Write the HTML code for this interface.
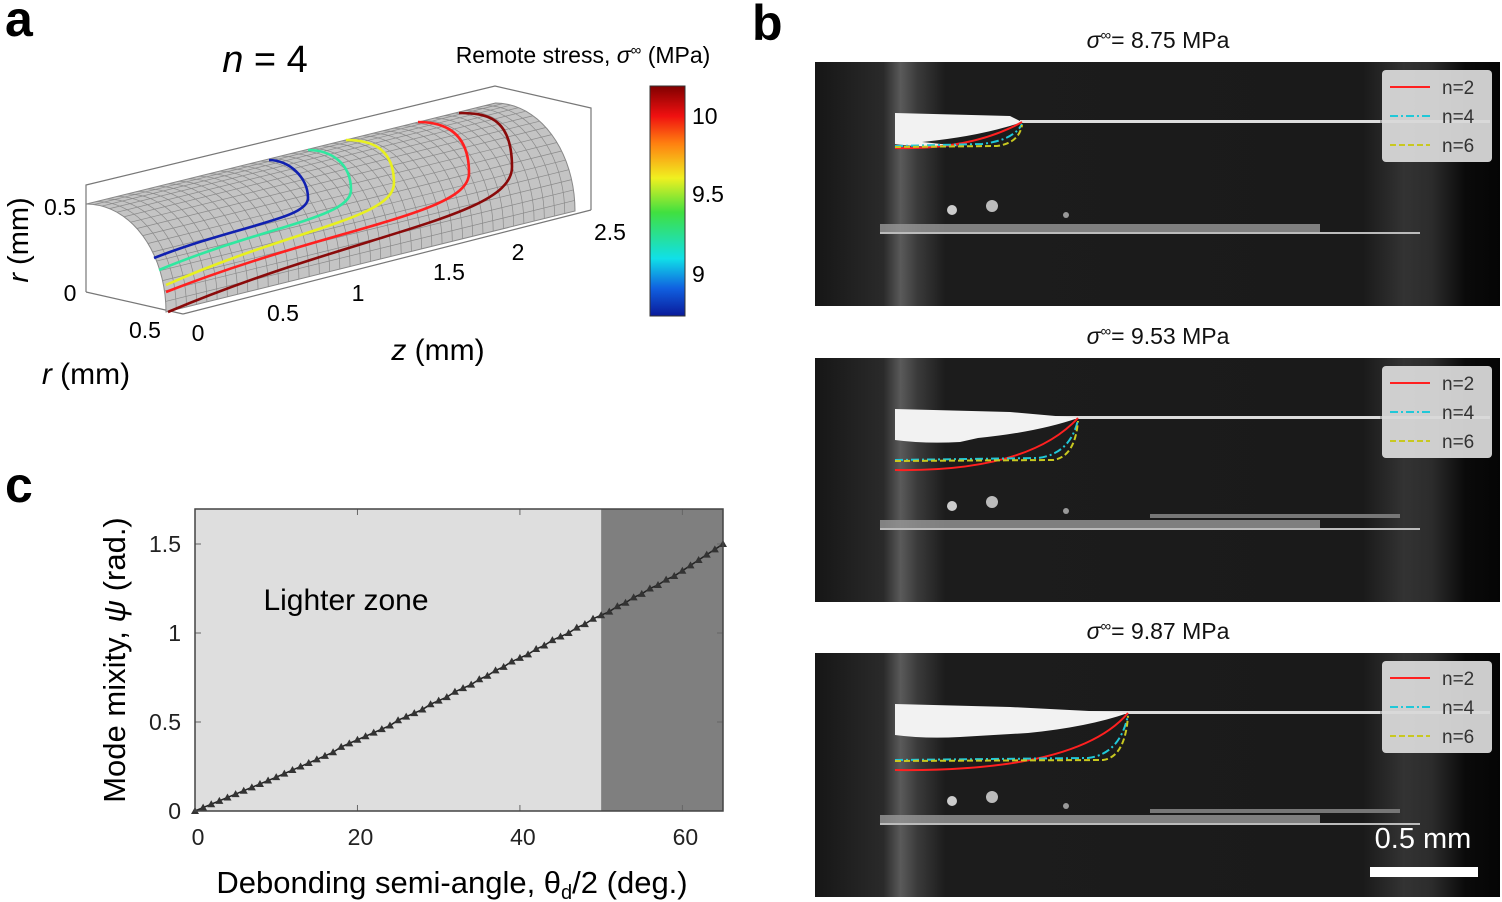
<!DOCTYPE html>
<html><head><meta charset="utf-8"><style>
body{margin:0;background:#fff;}
svg{display:block;font-family:"Liberation Sans",Arial,sans-serif;}
</style></head><body>
<svg id="fig" width="1502" height="902" viewBox="0 0 1502 902" xmlns="http://www.w3.org/2000/svg">
<defs>
<linearGradient id="cbar" x1="0" y1="1" x2="0" y2="0">
<stop offset="0" stop-color="#0a1a9a"/><stop offset="0.12" stop-color="#1060e0"/><stop offset="0.25" stop-color="#10e0e8"/><stop offset="0.45" stop-color="#40e040"/><stop offset="0.6" stop-color="#f0f020"/><stop offset="0.75" stop-color="#ff8010"/><stop offset="0.87" stop-color="#f01010"/><stop offset="1" stop-color="#800000"/>
</linearGradient>
<linearGradient id="bg" x1="0" y1="0" x2="1" y2="0">
<stop offset="0" stop-color="#161616"/><stop offset="0.1" stop-color="#2a2a2a"/><stop offset="0.125" stop-color="#5a5a5a"/><stop offset="0.15" stop-color="#3a3a3a"/><stop offset="0.19" stop-color="#1c1c1c"/><stop offset="0.8" stop-color="#1a1a1a"/><stop offset="0.86" stop-color="#333"/><stop offset="0.9" stop-color="#2c2c2c"/><stop offset="0.95" stop-color="#0a0a0a"/><stop offset="1" stop-color="#050505"/>
</linearGradient>
</defs>

<text x="5" y="36" font-size="50" font-weight="bold">a</text>
<text x="752" y="40" font-size="50" font-weight="bold">b</text>
<text x="5" y="502" font-size="50" font-weight="bold">c</text>

<g id="pa">
<text x="265" y="72" font-size="38" text-anchor="middle"><tspan font-style="italic">n</tspan> = 4</text>
<text x="583" y="63" font-size="23" text-anchor="middle">Remote stress, <tspan font-style="italic">σ</tspan><tspan font-size="15" dy="-8">∞</tspan><tspan dy="8"> (MPa)</tspan></text>
<polyline points="86,292 86,185 495,86 591,108 591,210" fill="none" stroke="#777" stroke-width="1.2"/>
<line x1="86" y1="292" x2="183" y2="314" stroke="#777" stroke-width="1.2"/>
<line x1="183" y1="314" x2="591" y2="210" stroke="#777" stroke-width="1.2"/>
<g id="surf"></g>
<g id="contours"></g>
<text x="60" y="215" font-size="23" text-anchor="middle">0.5</text>
<text x="70" y="301" font-size="23" text-anchor="middle">0</text>
<text x="28" y="240" font-size="29" text-anchor="middle" transform="rotate(-90 28 240)"><tspan font-style="italic">r</tspan> (mm)</text>
<text x="145" y="338" font-size="23" text-anchor="middle">0.5</text>
<text x="198" y="341" font-size="23" text-anchor="middle">0</text>
<text x="283" y="321" font-size="23" text-anchor="middle">0.5</text>
<text x="358" y="301" font-size="23" text-anchor="middle">1</text>
<text x="449" y="280" font-size="23" text-anchor="middle">1.5</text>
<text x="518" y="260" font-size="23" text-anchor="middle">2</text>
<text x="610" y="240" font-size="23" text-anchor="middle">2.5</text>
<text x="438" y="360" font-size="30" text-anchor="middle"><tspan font-style="italic">z</tspan> (mm)</text>
<text x="86" y="384" font-size="30" text-anchor="middle"><tspan font-style="italic">r</tspan> (mm)</text>
<rect x="650" y="86" width="35" height="230" fill="url(#cbar)" stroke="#333" stroke-width="1"/>
<text x="692" y="124" font-size="23">10</text>
<text x="692" y="202" font-size="23">9.5</text>
<text x="692" y="282" font-size="23">9</text>
</g>

<g id="pb"></g>

<g id="pc">
<rect x="195" y="509" width="528" height="302" fill="#dedede"/>
<rect id="darkzone" x="601" y="509" width="122" height="302" fill="#7f7f7f"/>
<g id="cticks"></g>
<g id="cmarks"></g>
<rect x="195" y="509" width="528" height="302" fill="none" stroke="#444" stroke-width="1.5"/>
<text x="346" y="610" font-size="30" text-anchor="middle">Lighter zone</text>
<text x="125" y="660" font-size="31" text-anchor="middle" transform="rotate(-90 125 660)">Mode mixity, <tspan font-style="italic">ψ</tspan> (rad.)</text>
<text x="452" y="893" font-size="31" text-anchor="middle">Debonding semi-angle, θ<tspan font-size="20" dy="6">d</tspan><tspan dy="-6">/2 (deg.)</tspan></text>
</g>

<script>
const NS="http://www.w3.org/2000/svg";
function mk(tag,attrs,parent){const e=document.createElementNS(NS,tag);for(const k in attrs)e.setAttribute(k,attrs[k]);parent.appendChild(e);return e;}

const zSpan=[409,-101];
function surfPt(phi,zf){return [86.5+79.5*Math.sin(phi)+zSpan[0]*zf,312-108*Math.cos(phi)+zSpan[1]*zf];}
const surf=document.getElementById('surf');
let outline=[];
for(let i=0;i<=20;i++){outline.push(surfPt(i/20*Math.PI/2,0));}
for(let i=20;i>=0;i--){outline.push(surfPt(i/20*Math.PI/2,1));}
const sp=mk('polygon',{points:outline.map(p=>p.join(',')).join(' '),fill:'#c4c4c4',stroke:'#888','stroke-width':1},surf);


for(let j=1;j<40;j++){const zf=j/40;let pts=[];for(let i=0;i<=20;i++)pts.push(surfPt(i/20*Math.PI/2,zf));
const l=mk('polyline',{points:pts.map(p=>p.join(',')).join(' '),fill:'none',stroke:'#8a8a8a','stroke-width':0.7},surf);

}
for(let i=1;i<16;i++){const a=surfPt(i/16*Math.PI/2,0),b=surfPt(i/16*Math.PI/2,1);
const l=mk('line',{x1:a[0],y1:a[1],x2:b[0],y2:b[1],stroke:'#8a8a8a','stroke-width':0.7},surf);

}

const contourColors=['#1020b0','#30e8a0','#e8f020','#ff2020','#8a0a0a'];
const contourStart=[[154,258],[159,270],[166,285],[166,292],[168,312]];
const contourBulge=[[308,198],[351,190],[394,183],[469,173],[512,167]];
const contourTop=[[269,160],[308,150],[346,140],[418,122],[459,113]];
const cg=document.getElementById('contours');
contourColors.forEach((c,k)=>{const s=contourStart[k],b=contourBulge[k],t=contourTop[k];
const d=`M${s[0]},${s[1]} C${s[0]+(b[0]-s[0])*0.55},${s[1]-(s[1]-b[1])*0.55} ${b[0]},${b[1]+ (s[1]-b[1])*0.35} ${b[0]},${b[1]} S${t[0]+ (b[0]-t[0])*0.5},${t[1]} ${t[0]},${t[1]}`;
const p=mk('path',{d:d,fill:'none',stroke:c,'stroke-width':2.6},cg);

});

const pb=document.getElementById('pb');
const bTitles=['8.75','9.53','9.87'];
const bTop=[62,358,653];
const bTipX=[1022,1078,1128];
const bStartRed=[148,470,770];
const bStartN=[146,460,760];
bTitles.forEach((s,i)=>{const y0=bTop[i],fy=y0+60,tip=bTipX[i];
const t=mk('text',{x:1158,y:y0-14,'font-size':23,'text-anchor':'middle',fill:'#111'},pb);


const t1=mk('tspan',{'font-style':'italic'},t);t1.textContent='σ';
const t2=mk('tspan',{'font-size':15,dy:-8},t);t2.textContent='∞';
const t3=mk('tspan',{dy:8},t);t3.textContent='= '+s+' MPa';
const g=mk('g',{},pb);


mk('rect',{x:815,y:y0,width:685,height:244,fill:'url(#bg)'},g);
mk('rect',{x:1020,y:fy-2,width:360,height:3,fill:'#ddd'},g);
mk('rect',{x:1380,y:fy-2,width:110,height:3,fill:'#aaa'},g);
mk('path',{d:`M895,${fy-9} L1010,${fy-6} L${tip},${fy} Q${tip-40},${fy+14} ${tip-100},${fy+20} L960,${fy+24} Q925,${fy+26} 895,${fy+22} Z`,fill:'#f2f2f2'},g);
mk('rect',{x:880,y:fy+102,width:440,height:8,fill:'#999',opacity:0.8},g);
mk('rect',{x:880,y:fy+110,width:540,height:2,fill:'#bbb'},g);
if(i>0)mk('rect',{x:1150,y:fy+96,width:250,height:4,fill:'#777'},g);
mk('circle',{cx:952,cy:fy+88,r:5,fill:'#ccc'},g);
mk('circle',{cx:992,cy:fy+84,r:6,fill:'#bbb'},g);
mk('circle',{cx:1066,cy:fy+93,r:3,fill:'#999'},g);
const r=mk('path',{d:`M895,${bStartRed[i]} Q${tip-50},${bStartRed[i]+2} ${tip},${fy}`,fill:'none',stroke:'#ff2020','stroke-width':2},g);


const c4=mk('path',{d:`M895,${bStartN[i]} L${tip-40},${bStartN[i]-2} Q${tip-8},${bStartN[i]-6} ${tip},${fy+2}`,fill:'none',stroke:'#20c8d8','stroke-width':2,'stroke-dasharray':'8 3 2 3'},g);


const c6=mk('path',{d:`M895,${bStartN[i]+1} L${tip-25},${bStartN[i]} Q${tip-3},${bStartN[i]-3} ${tip},${fy+3}`,fill:'none',stroke:'#c8c820','stroke-width':2,'stroke-dasharray':'6 3'},g);


const lg=mk('g',{},g);


mk('rect',{x:1382,y:y0+8,width:110,height:92,rx:4,fill:'#ddd',opacity:0.92},lg);
[['n=2','#ff2020','none'],['n=4','#20c8d8','8 3 2 3'],['n=6','#c8c820','6 3']].forEach((e,k)=>{const yy=y0+25+k*29;
mk('line',{x1:1390,y1:yy,x2:1430,y2:yy,stroke:e[1],'stroke-width':2,'stroke-dasharray':e[2]},lg);
const lt=mk('text',{x:1442,y:yy+7,'font-size':19,fill:'#333'},lg);lt.textContent=e[0];

});
});
const sbt=mk('text',{x:1423,y:848,'font-size':29,fill:'#fff','text-anchor':'middle'},pb);sbt.textContent='0.5 mm';


const sb=mk('rect',{x:1370,y:867,width:108,height:10,fill:'#fff'},pb);



const xTicks=[0,20,40,60];
const yTicks=[0,0.5,1,1.5];
const yTickLabels=['0','0.5','1','1.5'];
const darkZoneStart=50;
const theta=[0,1,2,3,4,5,6,7,8,9,10,11,12,13,14,15,16,17,18,19,20,21,22,23,24,25,26,27,28,29,30,31,32,33,34,35,36,37,38,39,40,41,42,43,44,45,46,47,48,49,50,51,52,53,54,55,56,57,58,59,60,61,62,63,64,65];
const psi=[0,0.019,0.038,0.057,0.076,0.095,0.114,0.133,0.152,0.171,0.19,
0.21,0.23,0.25,0.27,0.29,0.31,0.33,0.36,0.38,0.40,
0.42,0.44,0.46,0.48,0.51,0.53,0.55,0.57,0.60,0.62,
0.64,0.67,0.69,0.71,0.74,0.76,0.79,0.81,0.84,0.86,
0.88,0.91,0.93,0.96,0.98,1.00,1.03,1.05,1.08,1.10,
1.12,1.15,1.17,1.20,1.22,1.25,1.27,1.30,1.32,1.35,
1.38,1.41,1.44,1.47,1.50];
const X=v=>195+v*(528/65);
const Y=v=>811-v*(267/1.5);
const dz=document.getElementById('darkzone');dz.setAttribute('x',X(darkZoneStart));dz.setAttribute('width',723-X(darkZoneStart));
const ct=document.getElementById('cticks');
xTicks.forEach(v=>{mk('line',{x1:X(v),y1:811,x2:X(v),y2:805,stroke:'#666'},ct);mk('line',{x1:X(v),y1:509,x2:X(v),y2:515,stroke:'#666'},ct);
const t=mk('text',{x:X(v)+3,y:845,'font-size':23,'text-anchor':'middle',fill:'#222'},ct);t.textContent=v;

});
yTicks.forEach((v,i)=>{mk('line',{x1:195,y1:Y(v),x2:201,y2:Y(v),stroke:'#666'},ct);mk('line',{x1:723,y1:Y(v),x2:717,y2:Y(v),stroke:'#666'},ct);
const t=mk('text',{x:181,y:Y(v)+8,'font-size':23,'text-anchor':'end',fill:'#222'},ct);t.textContent=yTickLabels[i];

});
const cm=document.getElementById('cmarks');
const ln=mk('polyline',{points:theta.map((t,i)=>X(t)+','+Y(psi[i])).join(' '),fill:'none',stroke:'#222','stroke-width':1.5},cm);


theta.forEach((t,i)=>{const x=X(t),y=Y(psi[i]);
const m=mk('polygon',{points:`${x},${y-4} ${x-4},${y+3} ${x+4},${y+3}`,fill:'#333'},cm);

});
</script>
</svg>
</body></html>
